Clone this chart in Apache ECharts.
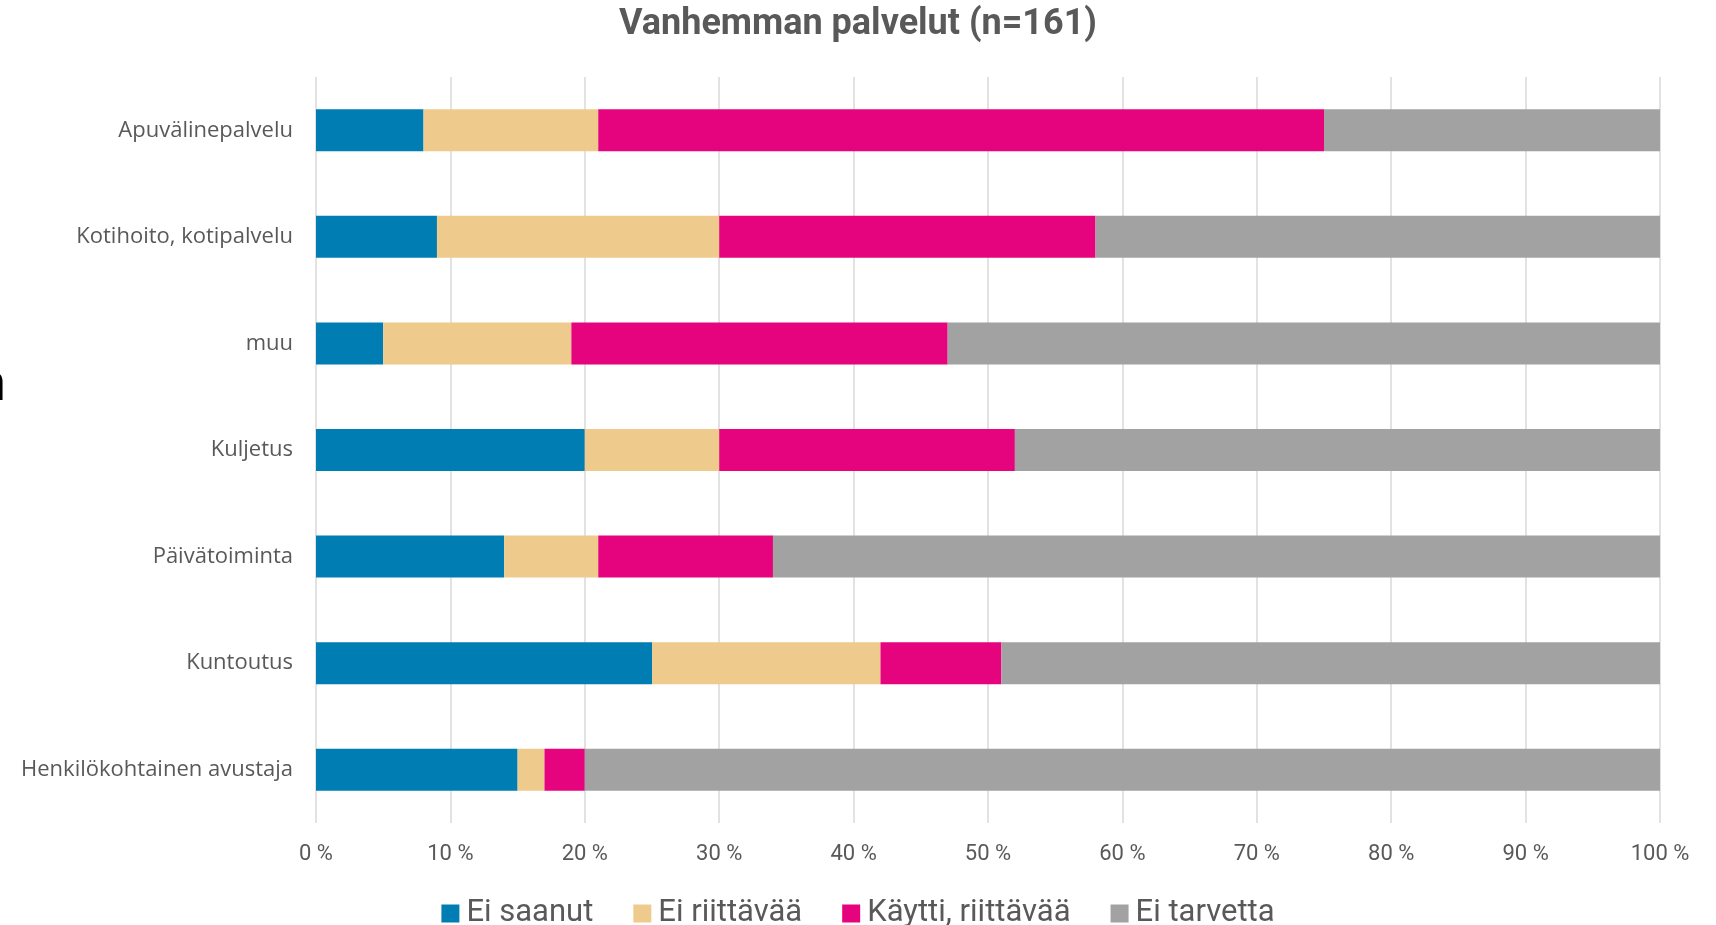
<!DOCTYPE html>
<html>
<head>
<meta charset="utf-8">
<script src="https://cdn.jsdelivr.net/npm/echarts@6/dist/echarts.min.js"></script>
<style>
  html, body { margin: 0; padding: 0; background: #fff; }
  #chart { width: 1716px; height: 925px; }
</style>
</head>
<body>
<div id="chart"></div>
<script>
// palvelut ylhäältä alas
const categories = [
  'Apuvälinepalvelu',
  'Kotihoito, kotipalvelu',
  'muu',
  'Kuljetus',
  'Päivätoiminta',
  'Kuntoutus',
  'Henkilökohtainen avustaja'
]
const eiSaanut = [8, 9, 5, 20, 14, 25, 15]
const eiRiittava = [13, 21, 14, 10, 7, 17, 2]
const kayttiRiittava = [54, 28, 28, 22, 13, 9, 3]
const eiTarvetta = [25, 42, 53, 48, 66, 49, 80]
const xTicks = [0, 10, 20, 30, 40, 50, 60, 70, 80, 90, 100]

const textColor = '#595959'
const gridColor = '#D9D9D9'
const font = 'Roboto, sans-serif'

const chart = echarts.init(document.getElementById('chart'))

function bar(name, data, color) {
  return {
    name,
    type: 'bar',
    stack: 'total',
    data,
    barWidth: 42,
    itemStyle: { color },
    emphasis: { disabled: true },
  }
}

chart.setOption({
  animation: false,
  title: {
    text: 'Vanhemman palvelut (n=161)',
    left: 'center',
    top: 2,
    textStyle: {
      fontFamily: font,
      fontSize: 36,
      fontWeight: 'bold',
      color: textColor,
    },
  },
  legend: {
    top: 893,
    left: 'center',
    itemWidth: 18,
    itemHeight: 18,
    itemGap: 40,
    icon: 'rect',
    textStyle: {
      fontFamily: font,
      fontSize: 31,
      color: textColor,
      padding: [0, 0, 0, 2],
    },
  },
  grid: {
    left: 316,
    right: 56,
    top: 77,
    bottom: 102,
  },
  xAxis: {
    type: 'value',
    min: 0,
    max: 100,
    interval: 10,
    axisLine: { show: false },
    axisTick: { show: false },
    splitLine: { lineStyle: { color: gridColor, width: 1.5 } },
    axisLabel: {
      margin: 20,
      color: textColor,
      fontSize: 22,
      fontFamily: font,
      formatter: v => (xTicks.includes(v) ? v + ' %' : ''),
    },
  },
  yAxis: {
    type: 'category',
    data: categories,
    inverse: true,
    axisLine: { show: false },
    axisTick: { show: false },
    axisLabel: {
      margin: 23,
      color: textColor,
      fontSize: 22,
      fontFamily: 'Open Sans, Roboto, sans-serif',
    },
  },
  graphic: [
    {
      // leikkautunut kirjain vasemmassa reunassa
      type: 'text',
      x: -23,
      y: 360,
      style: {
        text: 'n',
        fontSize: 52,
        fontFamily: 'Liberation Sans, sans-serif',
        fill: '#000',
      },
    },
  ],
  series: [
    bar('Ei saanut', eiSaanut, '#007DB3'),
    bar('Ei riittävää', eiRiittava, '#EECA8D'),
    bar('Käytti, riittävää', kayttiRiittava, '#E6037E'),
    bar('Ei tarvetta', eiTarvetta, '#A2A2A2'),
  ],
})
</script>
</body>
</html>
